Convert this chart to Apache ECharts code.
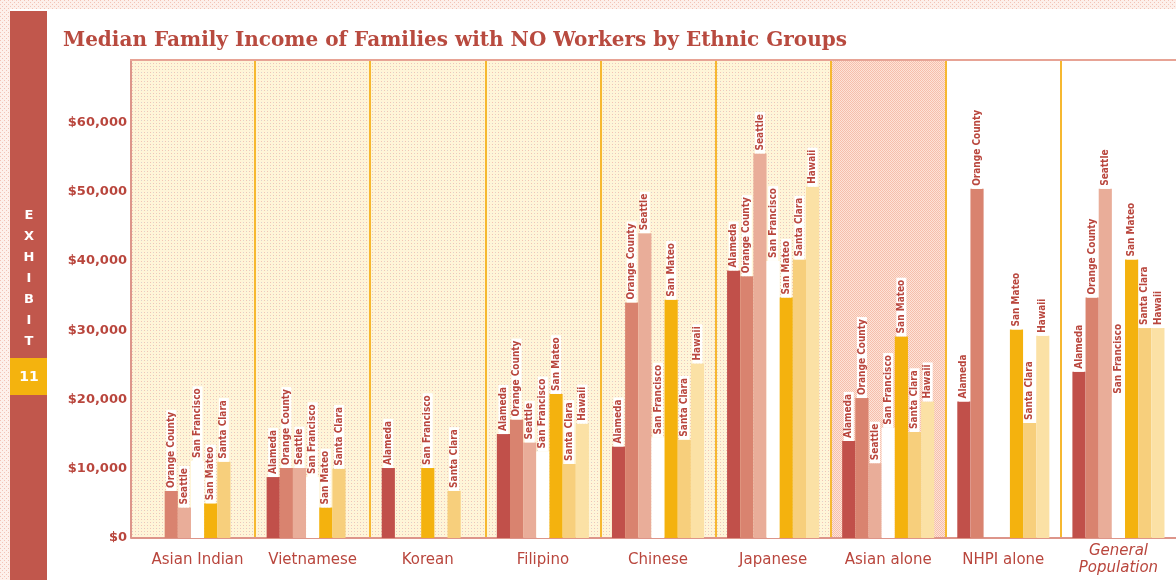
<!DOCTYPE html>
<html>
<head>
<meta charset="utf-8">
<style>
  html, body { margin: 0; padding: 0; background: #fff; }
  #chart { width: 1176px; height: 580px; }
</style>
<script src="https://cdn.jsdelivr.net/npm/echarts@6/dist/echarts.min.js"></script>
</head>
<body>
<div id="chart"></div>
<script>
// groups along the x axis
var groups = ['Asian Indian', 'Vietnamese', 'Korean', 'Filipino', 'Chinese', 'Japanese', 'Asian alone', 'NHPI alone', 'General\nPopulation'];
// one bar per place inside each group
var places = ['Alameda', 'Orange County', 'Seattle', 'San Francisco', 'San Mateo', 'Santa Clara', 'Hawaii'];

var alameda      = [null, 8800, 10100, 15000, 13200, 38600, 14000, 19700, 24000];
var orangeCounty = [6800, 10100, null, 17100, 34000, 37800, 20200, 50400, 34700];
var seattle      = [4400, 10100, null, 13800, 44000, 55500, 10800, null, 50400];
var sanFrancisco = [11100, 8800, 10100, 12500, 14500, 40000, 15900, null, 20400];
var sanMateo     = [5000, 4400, null, 20800, 34400, 34700, 29100, 30100, 40200];
var santaClara   = [11000, 10000, 6800, 10700, 14200, 40200, 15300, 16600, 30300];
var hawaii       = [null, null, null, 16500, 25200, 50700, 19700, 29200, 30300];

var yMax = 69000;
var yStep = 10000;

var seriesValues = [alameda, orangeCounty, seattle, sanFrancisco, sanMateo, santaClara, hawaii];
var barColors = ['#c1504a', '#d9836f', '#e9ad99', '#ffffff', '#f4b20e', '#f7cf7c', '#fbe1a5'];
// the Korean San Francisco bar is printed gold in the original
var recolor = { 3: { 2: '#f4b20e' } };

var red = '#b9463d';

function pattern(size, base, dots) {
    var c = document.createElement('canvas');
    c.width = size; c.height = size;
    var g = c.getContext('2d');
    g.fillStyle = base;
    g.fillRect(0, 0, size, size);
    dots.forEach(function (d) {
        g.fillStyle = d[2];
        g.fillRect(d[0], d[1], 1, 1);
    });
    return { image: c, repeat: 'repeat' };
}

var yellowBg = pattern(6, '#fff5d8', [[0, 0, '#f4c2b2'], [3, 3, '#f4c2b2'], [3, 0, '#dcd2cb'], [0, 3, '#dcd2cb']]);
var pinkBg = pattern(4, '#fde3d8', [[0, 0, '#f6bfab'], [2, 0, '#f6bfab'], [1, 1, '#f6bfab'], [3, 1, '#f6bfab'], [0, 2, '#f6bfab'], [2, 2, '#f6bfab'], [1, 3, '#f6bfab'], [3, 3, '#f6bfab']]);
var edgeBg = pattern(4, '#fdf0eb', [[0, 0, '#f3c3b6'], [2, 2, '#f3c3b6']]);

var chart = echarts.init(document.getElementById('chart'));

var series = seriesValues.map(function (vals, i) {
    return {
        name: places[i],
        type: 'bar',
        barGap: '0%',
        barCategoryGap: '20%',
        itemStyle: { color: barColors[i] },
        label: {
            show: true,
            position: 'top',
            rotate: 90,
            align: 'left',
            verticalAlign: 'middle',
            distance: 0,
            formatter: function (p) { return p.seriesName; },
            color: red,
            fontSize: 10,
            fontWeight: 'bold',
            fontFamily: 'DejaVu Sans Condensed, Liberation Sans Narrow, sans-serif',
            backgroundColor: '#ffffff',
            padding: [0, 2, 0, 3],
            lineHeight: 10
        },
        data: vals.map(function (v, j) {
            if (recolor[i] && recolor[i][j]) {
                return { value: v, itemStyle: { color: recolor[i][j] } };
            }
            return v;
        })
    };
});

option = {
    animation: false,
    backgroundColor: '#ffffff',
    title: {
        text: 'Median Family Income of Families with NO Workers by Ethnic Groups',
        left: 58,
        top: 26,
        textStyle: { fontFamily: 'DejaVu Serif', fontWeight: 'bold', fontSize: 20, color: '#b84a3f' }
    },
    grid: { left: 140, right: -11, top: 60, bottom: 42 },
    xAxis: {
        type: 'category',
        data: groups,
        axisTick: { show: false },
        axisLine: { lineStyle: { color: '#dd958a', width: 2 } },
        splitLine: { show: true, showMinLine: false, showMaxLine: false, lineStyle: { color: '#f6b830', width: 2 } },
        splitArea: {
            show: true,
            areaStyle: { color: [yellowBg, yellowBg, yellowBg, yellowBg, yellowBg, yellowBg, pinkBg, '#ffffff', '#ffffff'] }
        },
        axisLabel: {
            interval: 0,
            margin: 22,
            verticalAlign: 'middle',
            color: red,
            fontSize: 15,
            fontFamily: 'DejaVu Sans',
            lineHeight: 17,
            formatter: function (v) {
                if (v.indexOf('\n') >= 0) {
                    return v.split('\n').map(function (s) { return '{it|' + s + '}'; }).join('\n');
                }
                return v;
            },
            rich: { it: { fontStyle: 'italic', color: red, fontSize: 15, fontFamily: 'DejaVu Sans', lineHeight: 17 } }
        }
    },
    yAxis: {
        type: 'value',
        min: 0,
        max: yMax,
        interval: yStep,
        offset: 9,
        axisLine: { show: true, lineStyle: { color: '#dd958a', width: 2 } },
        axisTick: { show: false },
        splitLine: { showMaxLine: false, lineStyle: { color: '#fbcd76', width: 2 } },
        axisLabel: {
            showMaxLabel: false,
            margin: 4,
            color: red,
            fontSize: 13,
            fontWeight: 'bold',
            fontFamily: 'DejaVu Sans',
            verticalAlign: 'middle',
            padding: [0, 0, 12, 0],
            formatter: function (v) { return '$' + v.toLocaleString('en-US'); }
        }
    },
    graphic: [
        { type: 'rect', z: 0, shape: { x: 0, y: 0, width: 1176, height: 9 }, style: { fill: edgeBg } },
        { type: 'rect', z: 0, shape: { x: 0, y: 0, width: 10, height: 580 }, style: { fill: edgeBg } },
        { type: 'rect', z: 1, shape: { x: 10, y: 11, width: 37, height: 569 }, style: { fill: '#c1574c' } },
        { type: 'rect', z: 2, shape: { x: 10, y: 358, width: 37, height: 37 }, style: { fill: '#f4b30e' } },
        { type: 'text', z: 3, x: 29, y: 205, style: { text: 'E\nX\nH\nI\nB\nI\nT', fill: '#ffffff', font: 'bold 13px DejaVu Sans', textAlign: 'center', lineHeight: 21 } },
        { type: 'text', z: 3, x: 29, y: 377, style: { text: '11', fill: '#ffffff', font: 'bold 14px DejaVu Sans', textAlign: 'center', textVerticalAlign: 'middle' } },
        { type: 'rect', z: 0, shape: { x: 132, y: 60, width: 8, height: 477 }, style: { fill: yellowBg } },
        { type: 'line', z: 10, shape: { x1: 131, y1: 538, x2: 141, y2: 538 }, style: { stroke: '#dd958a', lineWidth: 2 } },
        { type: 'line', z: 10, shape: { x1: 130, y1: 60, x2: 1176, y2: 60 }, style: { stroke: '#e7a395', lineWidth: 2 } }
    ],
    series: series
};

chart.setOption(option);
</script>
</body>
</html>
